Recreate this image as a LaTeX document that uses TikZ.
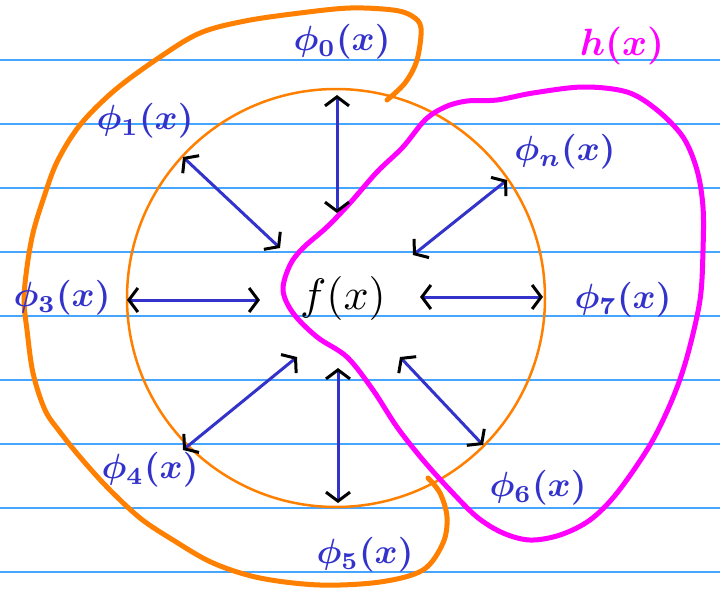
\documentclass[tikz,border=0pt]{standalone}
\usepackage{tikz}
\usetikzlibrary{arrows.meta}
\definecolor{penorange}{RGB}{255,128,0}
\definecolor{penmagenta}{RGB}{255,0,255}
\definecolor{penblue}{RGB}{51,51,204}
\definecolor{ruleblue}{RGB}{70,165,255}
\tikzstyle{philabel} = [text=penblue, font=\boldmath, scale=3.5]
\tikzstyle{funlabel} = [text=black, scale=4.4]
\tikzstyle{basisarrow} = [penblue, line width=3pt, >={Straight Barb[color=black,length=9pt,width=24pt,line width=3pt]}, <->]
\tikzstyle{ring} = [draw=penorange, line width=2.5pt]
\tikzstyle{outline} = [line width=5pt, line cap=round, line join=round, smooth, tension=0.55]

\begin{document}
\begin{tikzpicture}[x=1pt, y=-1pt]
    \useasboundingbox (0,0) rectangle (720,592);
    \fill[white] (0,0) rectangle (720,592);
    % ruled paper
    \foreach \y in {60,124,...,572}
        \draw[ruleblue, line width=1.3pt] (0,\y) -- (720,\y);

    \coordinate (c) at (336,298);
    \draw[ring] (c) circle (209pt);

    % outer curves
    \draw[penorange, outline] plot coordinates {(387,100) (405,83) (417,60) (421,28) (412,16) (393,10) (350,8) (300,13) (245,21) (200,33) (160,57) (115,90) (80,125) (57,162) (43,200) (33,233) (27,267) (24,300) (27,330) (33,373) (45,410) (60,432) (80,457) (107,487) (140,518) (173,540) (213,563) (260,578) (320,585) (380,582) (423,570) (443,543) (447,517) (440,493) (428,478)};
    \draw[penmagenta, outline] plot[smooth cycle] coordinates {(497,100) (533,93) (583,87) (627,92) (657,110) (683,137) (697,170) (703,207) (703,250) (700,300) (687,357) (672,400) (650,445) (617,493) (590,520) (560,535) (530,540) (503,533) (477,517) (450,490) (423,460) (397,427) (373,390) (347,357) (317,337) (293,313) (283,290) (290,265) (303,248) (327,227) (350,203) (377,172) (403,147) (425,120) (445,107) (467,101)};

    \node[funlabel] (f) at (343,298) {$f(x)$};
    \node[text=penmagenta, font=\boldmath, scale=3.8] (h) at (622,46) {$h(x)$};

    \node[philabel] (p0) at (342,42) {$\phi_0(x)$};
    \node[philabel] (p1) at (145,121) {$\phi_1(x)$};
    \node[philabel] (pn) at (565,152) {$\phi_n(x)$};
    \node[philabel] (p3) at (62,298) {$\phi_3(x)$};
    \node[philabel] (p7) at (623,300) {$\phi_7(x)$};
    \node[philabel] (p4) at (150,470) {$\phi_4(x)$};
    \node[philabel] (p5) at (365,555) {$\phi_5(x)$};
    \node[philabel] (p6) at (538,488) {$\phi_6(x)$};

    % arrow ends on the ring and near f(x)
    \coordinate (o0) at (337,95);  \coordinate (i0) at (337,213);
    \coordinate (o1) at (183,157); \coordinate (i1) at (280,248);
    \coordinate (o3) at (127,300); \coordinate (i3) at (260,300);
    \coordinate (o4) at (183,450); \coordinate (i4) at (297,357);
    \coordinate (o5) at (338,503); \coordinate (i5) at (338,368);
    \coordinate (o6) at (483,445); \coordinate (i6) at (400,357);
    \coordinate (o7) at (543,297); \coordinate (i7) at (420,297);
    \coordinate (on) at (507,180); \coordinate (in) at (413,255);

    \foreach \k in {0,1,3,4,5,6,7,n}
        \draw[basisarrow] (o\k) -- (i\k);
\end{tikzpicture}
\end{document}
